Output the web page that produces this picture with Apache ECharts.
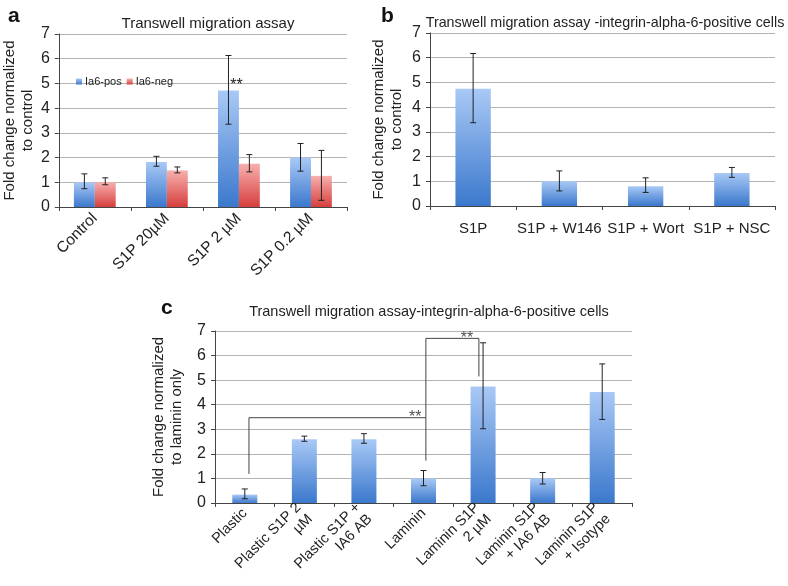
<!DOCTYPE html>
<html>
<head>
<meta charset="utf-8">
<script src="https://cdn.jsdelivr.net/npm/echarts@6/dist/echarts.min.js"></script>
<style>html,body{margin:0;padding:0;background:#fff;}#chart{width:788px;height:586px;}</style>
</head>
<body>
<div id="chart"></div>
<script>
// ---------- Panel a ----------
const aCategories = ['Control', 'S1P 20µM', 'S1P 2 µM', 'S1P 0.2 µM'];
const aPos = [1.0, 1.82, 4.71, 2.0];
const aPosLow = [0.74, 1.65, 3.35, 1.45];
const aPosHigh = [1.34, 2.05, 6.13, 2.57];
const aNeg = [1.0, 1.48, 1.75, 1.26];
const aNegLow = [0.9, 1.38, 1.42, 0.27];
const aNegHigh = [1.18, 1.62, 2.12, 2.29];
const aLegend = ['Ia6-pos', 'Ia6-neg'];
const aStars = ['', '', '**', ''];

// ---------- Panel b ----------
const bCategories = ['S1P', 'S1P + W146', 'S1P + Wort', 'S1P + NSC'];
const bValues = [4.74, 1.0, 0.8, 1.34];
const bLow = [3.37, 0.61, 0.55, 1.16];
const bHigh = [6.17, 1.42, 1.14, 1.56];

// ---------- Panel c ----------
const cCategories = ['Plastic', 'Plastic S1P 2\nµM', 'Plastic S1P +\nIA6 AB', 'Laminin',
                     'Laminin S1P\n2 µM', 'Laminin S1P\n+ IA6 AB', 'Laminin S1P\n+ Isotype'];
const cValues = [0.34, 2.59, 2.59, 1.0, 4.74, 1.0, 4.52];
const cLow = [0.17, 2.51, 2.43, 0.7, 3.02, 0.77, 3.4];
const cHigh = [0.57, 2.72, 2.82, 1.32, 6.52, 1.24, 5.66];
// significance brackets: [x in category units, y value]
const cBracket1 = [[0.57, 1.18], [0.57, 3.47], [3.54, 3.47], [3.54, 1.72]];
const cBracket2 = [[3.54, 3.47], [3.54, 6.7], [4.43, 6.7], [4.43, 5.15]];
const cStars = [[3.36, 3.47], [4.23, 6.7]];

// y-axis ticks
const yMin = 0, yMax = 7, yInterval = 1;

const chart = echarts.init(document.getElementById('chart'));

const FONT = 'Liberation Sans, Arial, Helvetica, sans-serif';
const TXT = '#222';
const AXIS = '#444';
const GRIDC = '#b3b3b3';

const blueGrad = new echarts.graphic.LinearGradient(0, 0, 0, 1, [
  { offset: 0, color: '#a9c9f6' }, { offset: 1, color: '#3b78cc' }]);
const redGrad = new echarts.graphic.LinearGradient(0, 0, 0, 1, [
  { offset: 0, color: '#f7b0ae' }, { offset: 1, color: '#d63f3d' }]);

function errData(low, high) { return low.map((l, i) => [i, l, high[i]]); }

function errRender(offsetFrac) {
  return function (params, api) {
    const i = api.value(0);
    const p1 = api.coord([i, api.value(1)]);
    const p2 = api.coord([i, api.value(2)]);
    const band = api.size([1, 0])[0];
    const x = p1[0] + offsetFrac * band;
    const cap = 3;
    const style = { stroke: '#222', lineWidth: 1 };
    return {
      type: 'group',
      children: [
        { type: 'line', shape: { x1: x, y1: p1[1], x2: x, y2: p2[1] }, style },
        { type: 'line', shape: { x1: x - cap, y1: p1[1], x2: x + cap, y2: p1[1] }, style },
        { type: 'line', shape: { x1: x - cap, y1: p2[1], x2: x + cap, y2: p2[1] }, style }
      ]
    };
  };
}

function yAxisCfg(gridIndex, name, nameGap) {
  return {
    type: 'value', gridIndex, min: yMin, max: yMax, interval: yInterval,
    name, nameLocation: 'middle', nameRotate: 90, nameGap,
    nameTextStyle: { fontFamily: FONT, fontSize: 15, color: TXT, lineHeight: 18 },
    axisLine: { show: true, lineStyle: { color: AXIS, width: 1 } },
    axisTick: { show: true, length: 4, lineStyle: { color: AXIS } },
    axisLabel: { fontFamily: FONT, fontSize: 16, color: TXT, margin: 9 },
    splitLine: { show: true, lineStyle: { color: GRIDC, width: 1 } }
  };
}

function xCatCfg(gridIndex, data, rotate, fontSize, margin) {
  return {
    type: 'category', gridIndex, data,
    axisLine: { show: true, lineStyle: { color: AXIS, width: 1 } },
    axisTick: { show: true, length: 4, lineStyle: { color: AXIS } },
    axisLabel: { interval: 0, rotate, fontFamily: FONT, fontSize, color: TXT, margin,
      lineHeight: fontSize + 2 },
    splitLine: { show: false }
  };
}

const option = {
  backgroundColor: '#fff',
  animation: false,
  title: [
    { text: 'a', left: 3, top: 1, textStyle: { fontFamily: FONT, fontSize: 21, fontWeight: 'bold', color: '#111' } },
    { text: 'b', left: 376, top: 1, textStyle: { fontFamily: FONT, fontSize: 21, fontWeight: 'bold', color: '#111' } },
    { text: 'c', left: 156, top: 293, textStyle: { fontFamily: FONT, fontSize: 21, fontWeight: 'bold', color: '#111' } },
    { text: 'Transwell migration assay', left: 203, top: 11, textAlign: 'center',
      textStyle: { fontFamily: FONT, fontSize: 15, fontWeight: 'normal', color: TXT } },
    { text: 'Transwell migration assay -integrin-alpha-6-positive cells', left: 600, top: 11, textAlign: 'center',
      textStyle: { fontFamily: FONT, fontSize: 14.3, fontWeight: 'normal', color: TXT } },
    { text: 'Transwell migration assay-integrin-alpha-6-positive cells', left: 424, top: 299, textAlign: 'center',
      textStyle: { fontFamily: FONT, fontSize: 14.5, fontWeight: 'normal', color: TXT } }
  ],
  legend: {
    data: aLegend, left: 71, top: 71, icon: 'rect', itemWidth: 6, itemHeight: 6, itemGap: 5,
    textStyle: { fontFamily: FONT, fontSize: 11, color: TXT, padding: [0, 0, 0, -2] }
  },
  grid: [
    { left: 57, top: 34, width: 290, height: 173 },
    { left: 430, top: 33, width: 345, height: 173 },
    { left: 215, top: 331, width: 417, height: 174 }
  ],
  xAxis: [
    xCatCfg(0, aCategories, 45, 15.5, 9),
    xCatCfg(1, bCategories, 0, 15, 14),
    xCatCfg(2, cCategories, 45, 14.5, 8),
    { type: 'value', gridIndex: 2, min: 0, max: cCategories.length, show: false }
  ],
  yAxis: [
    yAxisCfg(0, 'Fold change normalized\nto control', 21),
    yAxisCfg(1, 'Fold change normalized\nto control', 24),
    yAxisCfg(2, 'Fold change normalized\nto laminin only', 27)
  ],
  series: [
    { name: 'Ia6-pos', type: 'bar', xAxisIndex: 0, yAxisIndex: 0, data: aPos,
      barGap: '0%', barCategoryGap: '42%', itemStyle: { color: blueGrad },
      label: { show: true, position: 'top', offset: [8, 8], fontFamily: FONT, fontSize: 16, color: '#222',
        formatter: p => aStars[p.dataIndex] } },
    { name: 'Ia6-neg', type: 'bar', xAxisIndex: 0, yAxisIndex: 0, data: aNeg,
      barGap: '0%', barCategoryGap: '42%', itemStyle: { color: redGrad } },
    { type: 'custom', xAxisIndex: 0, yAxisIndex: 0, data: errData(aPosLow, aPosHigh),
      renderItem: errRender(-0.145), z: 5, encode: { x: 0, y: [1, 2] } },
    { type: 'custom', xAxisIndex: 0, yAxisIndex: 0, data: errData(aNegLow, aNegHigh),
      renderItem: errRender(0.145), z: 5, encode: { x: 0, y: [1, 2] } },

    { type: 'bar', xAxisIndex: 1, yAxisIndex: 1, data: bValues, barCategoryGap: '59%',
      itemStyle: { color: blueGrad } },
    { type: 'custom', xAxisIndex: 1, yAxisIndex: 1, data: errData(bLow, bHigh),
      renderItem: errRender(0), z: 5, encode: { x: 0, y: [1, 2] } },

    { type: 'bar', xAxisIndex: 2, yAxisIndex: 2, data: cValues, barCategoryGap: '58%',
      itemStyle: { color: blueGrad } },
    { type: 'custom', xAxisIndex: 2, yAxisIndex: 2, data: errData(cLow, cHigh),
      renderItem: errRender(0), z: 5, encode: { x: 0, y: [1, 2] } },
    { type: 'line', xAxisIndex: 3, yAxisIndex: 2, data: cBracket1, symbol: 'none', z: 6,
      lineStyle: { color: '#444', width: 1 } },
    { type: 'line', xAxisIndex: 3, yAxisIndex: 2, data: cBracket2, symbol: 'none', z: 6,
      lineStyle: { color: '#444', width: 1 } },
    { type: 'scatter', xAxisIndex: 3, yAxisIndex: 2, data: cStars, symbolSize: 0, z: 7,
      label: { show: true, position: 'top', distance: 0, offset: [0, 8], formatter: '**',
        fontFamily: FONT, fontSize: 16, color: '#222' } }
  ]
};
chart.setOption(option);
</script>
</body>
</html>
